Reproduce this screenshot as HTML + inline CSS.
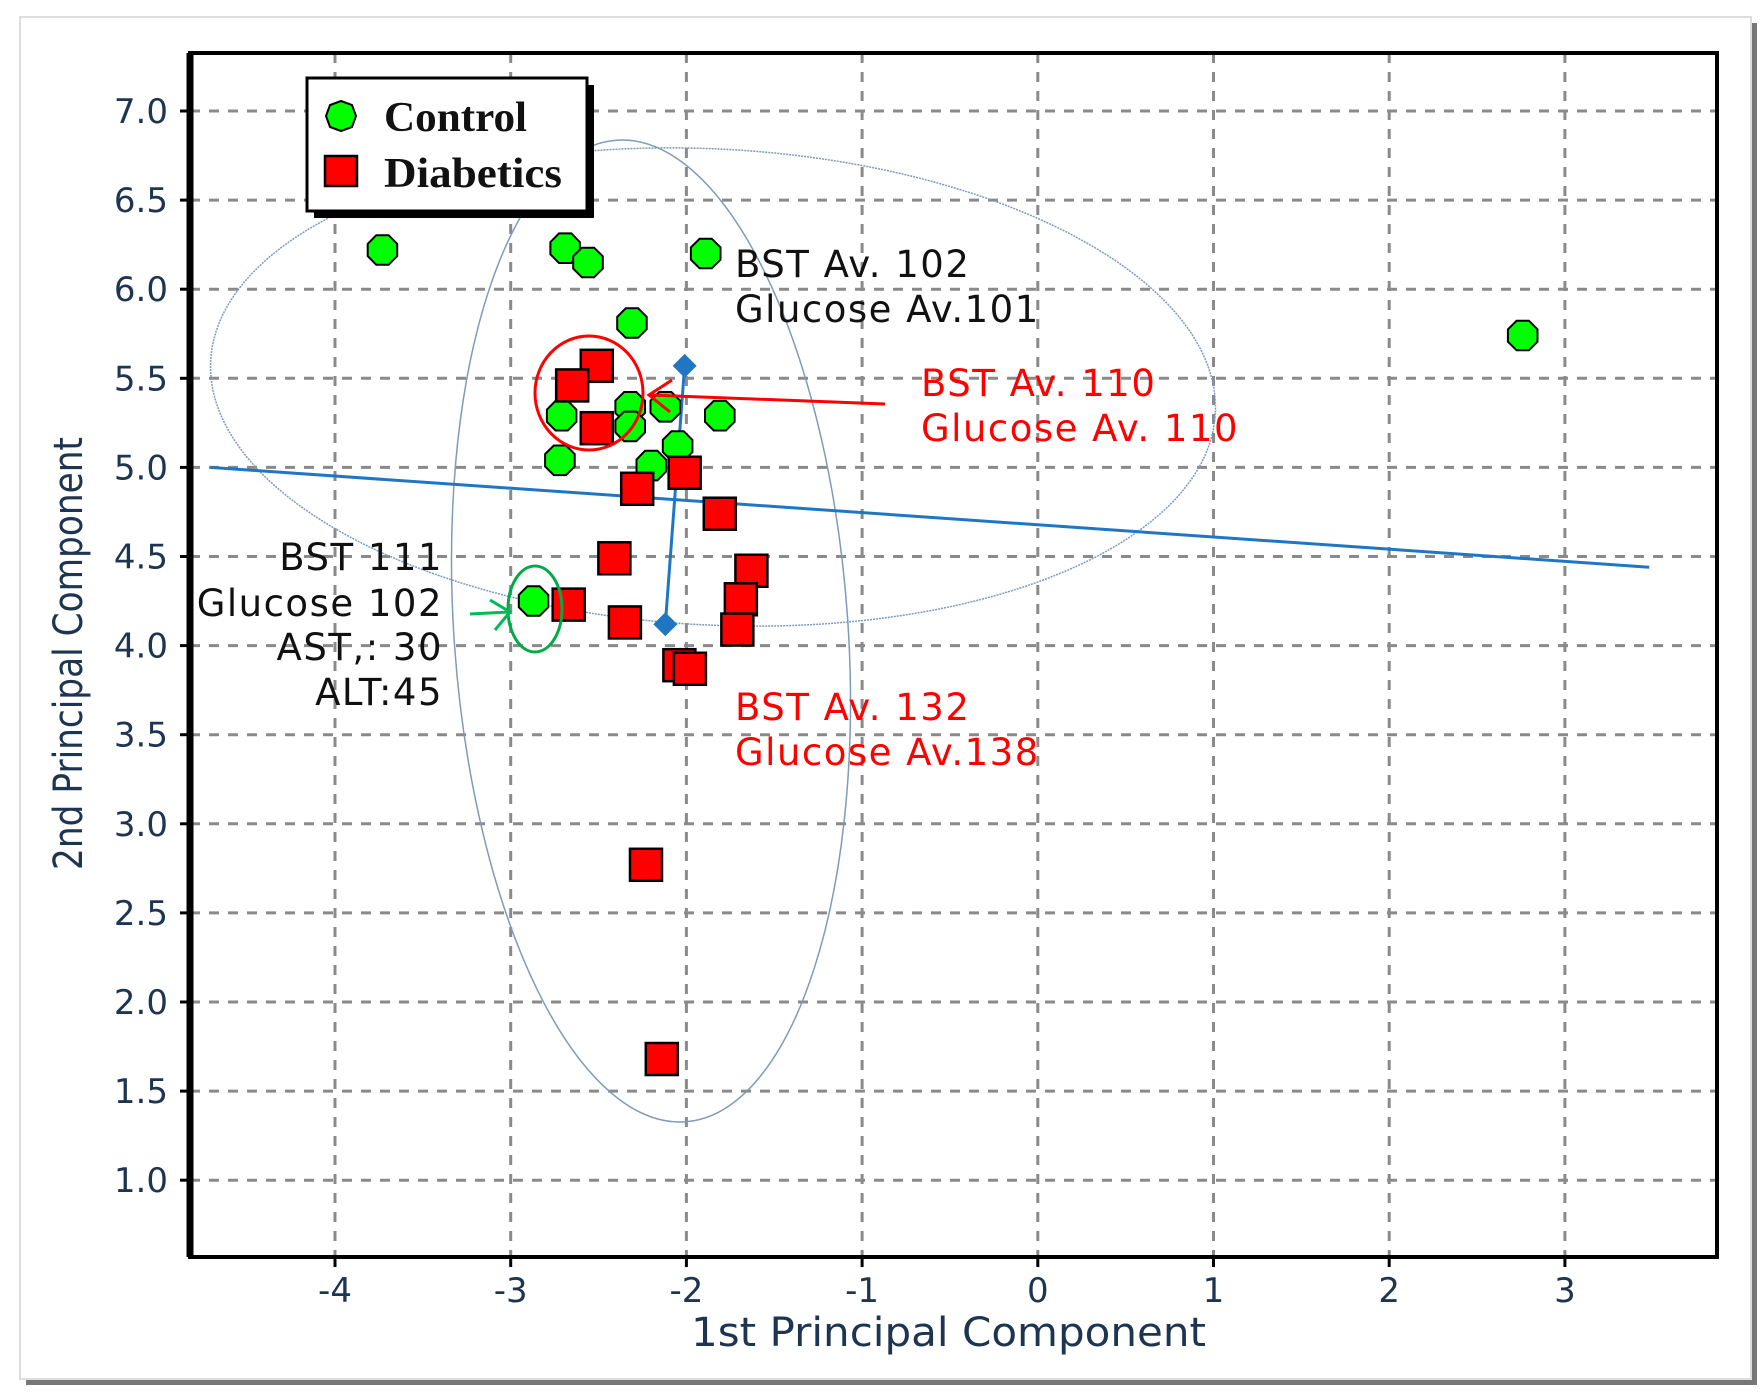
<!DOCTYPE html>
<html><head><meta charset="utf-8"><style>
body{margin:0;background:#fff;}
svg{display:block;}
.tick{font-family:"DejaVu Sans","Liberation Sans",sans-serif;font-size:34px;fill:#1d3550;}
.ttl{font-family:"DejaVu Sans","Liberation Sans",sans-serif;font-size:40px;fill:#1d3550;}
.ann{font-family:"DejaVu Sans","Liberation Sans",sans-serif;font-size:37px;letter-spacing:1.5px;}
</style></head><body>
<svg id="chart" width="1762" height="1400" viewBox="0 0 1762 1400" xmlns="http://www.w3.org/2000/svg">
<rect x="26" y="23" width="1731" height="1362" fill="#777"/>
<rect x="20" y="17" width="1731" height="1362" fill="#fff" stroke="#ddd" stroke-width="2"/>
<g id="grid"></g>
<g id="ellipses">
<ellipse cx="713" cy="387" rx="503" ry="238" transform="rotate(3 713 387)" fill="none" stroke="#7d9bbb" stroke-width="1.5" stroke-dasharray="2 1"/>
<ellipse cx="651" cy="631" rx="197" ry="492" transform="rotate(-4 651 631)" fill="none" stroke="#7d9bbb" stroke-width="1.5"/>
</g>
<g id="lines"></g>
<g id="marks"></g>
<g id="axes"></g>
<g>
<ellipse cx="589" cy="393" rx="54" ry="57" fill="none" stroke="#f00" stroke-width="3"/>
<ellipse cx="535" cy="609" rx="27" ry="43" fill="none" stroke="#0a4" stroke-width="3"/>
<path d="M885 404 L649 395 M672 380 L649 395 L670 412" fill="none" stroke="#f00" stroke-width="3"/>
<path d="M470 614 L510 612 M490 600 L510 612 L495 630" fill="none" stroke="#0b5" stroke-width="3"/>
<text class="ann" x="735" y="277" fill="#111">BST Av. 102</text>
<text class="ann" x="735" y="322" fill="#111">Glucose Av.101</text>
<text class="ann" x="921" y="396" fill="#f00">BST Av. 110</text>
<text class="ann" x="921" y="441" fill="#f00">Glucose Av. 110</text>
<text class="ann" x="735" y="720" fill="#f00">BST Av. 132</text>
<text class="ann" x="735" y="765" fill="#f00">Glucose Av.138</text>
<g text-anchor="end" fill="#111">
<text class="ann" x="443" y="570">BST  111</text>
<text class="ann" x="443" y="616">Glucose 102</text>
<text class="ann" x="443" y="660">AST,: 30</text>
<text class="ann" x="443" y="705">ALT:45</text>
</g>
</g>
<g>
<rect x="314" y="85" width="280" height="133" fill="#000"/>
<rect x="307" y="78" width="280" height="133" fill="#fff" stroke="#000" stroke-width="3"/>
<polygon points="356,116 352,127 341,131 330,127 326,116 330,105 341,101 352,105" fill="#0f0" stroke="#000" stroke-width="2"/>
<rect x="325" y="156" width="32" height="30" fill="#f00" stroke="#000" stroke-width="2.5"/>
<text x="384" y="131" font-family="Liberation Serif,serif" font-weight="bold" font-size="42" fill="#111" textLength="143" lengthAdjust="spacingAndGlyphs">Control</text>
<text x="384" y="187" font-family="Liberation Serif,serif" font-weight="bold" font-size="42" fill="#111" textLength="178" lengthAdjust="spacingAndGlyphs">Diabetics</text>
</g>
</svg>
<script>
const xTicks=[-4,-3,-2,-1,0,1,2,3];
const yTicks=[1.0,1.5,2.0,2.5,3.0,3.5,4.0,4.5,5.0,5.5,6.0,6.5,7.0];
const controlX=[-3.73,-2.69,-2.56,-1.89,-2.31,2.76,-2.71,-2.32,-2.12,-1.81,-2.32,-2.05,-2.20,-2.72,-2.87];
const controlY=[6.22,6.23,6.15,6.20,5.81,5.74,5.29,5.34,5.34,5.29,5.23,5.12,5.01,5.04,4.25];
const diabeticX=[-2.51,-2.65,-2.51,-2.28,-2.01,-1.81,-2.41,-1.63,-2.67,-2.35,-1.69,-1.71,-2.04,-1.98,-2.23,-2.14];
const diabeticY=[5.57,5.46,5.22,4.88,4.97,4.74,4.49,4.42,4.23,4.13,4.26,4.09,3.89,3.87,2.77,1.68];
const separatorX=[-4.71,3.48];
const separatorY=[5.0,4.44];
const centroidX=[-2.01,-2.12];
const centroidY=[5.57,4.12];

const L=190,R=1717,T=53,B=1257;
function X(v){return 335+(v+4)*175.7;}
function Y(v){return 111+(7-v)*178.2;}
const NS='http://www.w3.org/2000/svg';
function mk(tag,attrs,parent){const e=document.createElementNS(NS,tag);for(const k in attrs)e.setAttribute(k,attrs[k]);parent.appendChild(e);return e;}
const grid=document.getElementById('grid'),axes=document.getElementById('axes'),marks=document.getElementById('marks'),lines=document.getElementById('lines');
xTicks.forEach(v=>{
 const g=mk('line',{x1:X(v),x2:X(v),y1:T,y2:B,stroke:'#8a8a8a','stroke-width':3,'stroke-dasharray':'10 9'},grid);
 
 
 const t=mk('line',{x1:X(v),x2:X(v),y1:B,y2:B+10,stroke:'#000','stroke-width':3},axes);
 
 
 const l=mk('text',{x:X(v),y:1302,'text-anchor':'middle',class:'tick'},axes);l.textContent=v;
 
 
});
yTicks.forEach(v=>{
 const g=mk('line',{x1:L,x2:R,y1:Y(v),y2:Y(v),stroke:'#8a8a8a','stroke-width':3,'stroke-dasharray':'10 9'},grid);
 
 
 const t=mk('line',{x1:L-10,x2:L,y1:Y(v),y2:Y(v),stroke:'#000','stroke-width':3},axes);
 
 
 const l=mk('text',{x:168,y:Y(v)+12,'text-anchor':'end',class:'tick'},axes);l.textContent=v.toFixed(1);
 
 
});
const box=mk('rect',{x:L,y:T,width:R-L,height:B-T,fill:'none',stroke:'#000','stroke-width':4},axes);


const yax=mk('line',{x1:L,x2:L,y1:T,y2:B,stroke:'#000','stroke-width':7},axes);


const xt=mk('text',{x:691,y:1346,class:'ttl',textLength:515,lengthAdjust:'spacingAndGlyphs'},axes);xt.textContent='1st Principal Component';


const yt=mk('text',{x:-216,y:0,class:'ttl',textLength:433,lengthAdjust:'spacingAndGlyphs',transform:'translate(82,654) rotate(-90)'},axes);yt.textContent='2nd Principal Component';



const sep=mk('line',{x1:X(separatorX[0]),y1:Y(separatorY[0]),x2:X(separatorX[1]),y2:Y(separatorY[1]),stroke:'#1f77c4','stroke-width':3},lines);


const cl=mk('line',{x1:X(centroidX[0]),y1:Y(centroidY[0]),x2:X(centroidX[1]),y2:Y(centroidY[1]),stroke:'#1f77c4','stroke-width':3},lines);


centroidX.forEach((v,i)=>{const x=X(v),y=Y(centroidY[i]);
 const d=mk('polygon',{points:`${x},${y-12} ${x+12},${y} ${x},${y+12} ${x-12},${y}`,fill:'#1f77c4'},lines);
 
 
});
controlX.forEach((v,i)=>{const cx=X(v),cy=Y(controlY[i]);let pts=[];
 for(let k=0;k<8;k++){const a=Math.PI/8+k*Math.PI/4;pts.push((cx+16*Math.cos(a)).toFixed(1)+','+(cy+16*Math.sin(a)).toFixed(1));}
 const p=mk('polygon',{points:pts.join(' '),fill:'#0f0',stroke:'#000','stroke-width':2},marks);
 
 
});
diabeticX.forEach((v,i)=>{const cx=X(v),cy=Y(diabeticY[i]);
 const r=mk('rect',{x:cx-16,y:cy-16,width:32,height:32,fill:'#f00',stroke:'#000','stroke-width':2.5},marks);
 
 
});
</script>
</body></html>
